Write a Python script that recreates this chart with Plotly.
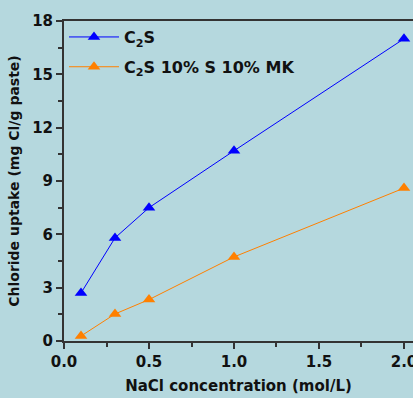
import plotly.graph_objects as go

conc = [0.1, 0.3, 0.5, 1.0, 2.0]
c2s = [2.7, 5.8, 7.5, 10.7, 17.0]
c2s_s_mk = [0.28, 1.52, 2.33, 4.73, 8.6]
series_names = ["C<sub>2</sub>S", "C<sub>2</sub>S 10% S 10% MK"]
x_ticks = [0.0, 0.5, 1.0, 1.5, 2.0]
x_ticklabels = ["0.0", "0.5", "1.0", "1.5", "2.0"]
y_ticks = [0, 3, 6, 9, 12, 15, 18]

BG = "#b5d8de"
FONT = "DejaVu Sans, Liberation Sans, sans-serif"
AX = "#333333"

fig = go.Figure()
fig.add_trace(go.Scatter(x=conc, y=c2s, name=series_names[0], mode="lines+markers",
                         legendgroup="a",
                         line=dict(color="#0000ff", width=1),
                         marker=dict(symbol="triangle-up", size=11, color="#0000ff")))
fig.add_trace(go.Scatter(x=conc, y=c2s_s_mk, name=series_names[1], mode="lines+markers",
                         legendgroup="b",
                         line=dict(color="#ff8000", width=1),
                         marker=dict(symbol="triangle-up", size=11, color="#ff8000")))

fig.update_layout(
    width=413, height=398,
    margin=dict(l=64, r=0, t=21, b=57),
    paper_bgcolor=BG, plot_bgcolor=BG,
    font=dict(family=FONT, size=14, color="#111111"),
    showlegend=True,
    legend=dict(x=0.0, y=1.003, xanchor="left", yanchor="top", bgcolor="rgba(0,0,0,0)",
                font=dict(family=FONT, size=16, color="#111111", weight="bold"),
                tracegroupgap=6, itemwidth=50),
    xaxis=dict(range=[0, 2.053], tickvals=x_ticks, ticktext=x_ticklabels, automargin=False,
               ticklabeloverflow="allow",
               showgrid=False, zeroline=False, showline=True, linecolor=AX, linewidth=2,
               mirror=True, ticks="outside", ticklen=6, tickwidth=1.5, tickcolor=AX,
               tickfont=dict(family=FONT, size=15, weight="bold"),
               minor=dict(ticks="outside", dtick=0.25, tick0=0, ticklen=4, tickwidth=1.5, tickcolor=AX),
               title=dict(text="NaCl concentration (mol/L)", standoff=10,
                          font=dict(family=FONT, size=15, weight="bold"))),
    yaxis=dict(range=[0, 18], tickvals=y_ticks, automargin=False,
               showgrid=False, zeroline=False, showline=True, linecolor=AX, linewidth=2,
               mirror=False, ticks="outside", ticklen=6, tickwidth=1.5, tickcolor=AX,
               tickfont=dict(family=FONT, size=15, weight="bold"),
               minor=dict(ticks="outside", dtick=1.5, tick0=0, ticklen=4, tickwidth=1.5, tickcolor=AX),
               title=dict(text="Chloride uptake (mg Cl/g paste)", standoff=9,
                          font=dict(family=FONT, size=14, weight="bold"))),
)

fig.write_html("out.html", config={"displayModeBar": False},
               post_script="document.body.style.margin='0';document.body.style.overflow='hidden';")
